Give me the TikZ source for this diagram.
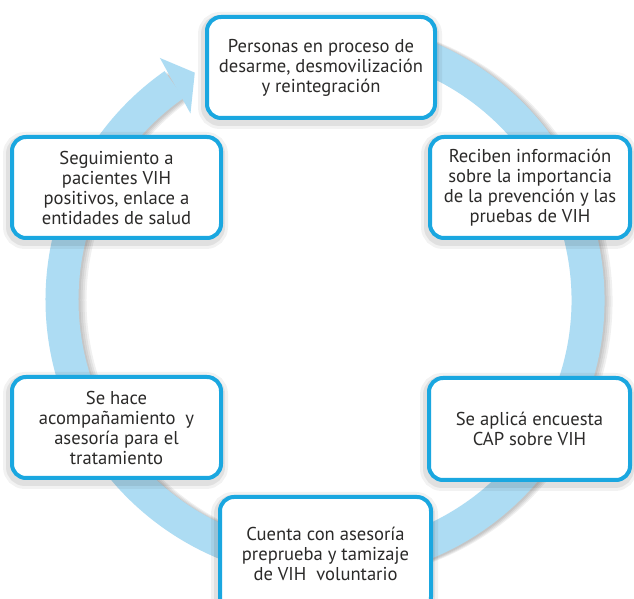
\documentclass[tikz,border=0pt]{standalone}
\usepackage{fontspec}
\setmainfont{PT Sans}
\usetikzlibrary{calc}

\definecolor{borde}{HTML}{1AA7E0}
\definecolor{anillo}{HTML}{ADDCF3}
\definecolor{letra}{HTML}{2B2A29}

\begin{document}
\begin{tikzpicture}[x=1pt,y=1pt,
  paso/.style={draw=borde, line width=4pt, rounded corners=14pt, fill=white,
    align=center, text=letra, inner sep=0pt,
    font=\fontsize{18.6}{20}\selectfont,
    preaction={draw=black, opacity=0.05, line width=16pt, transform canvas={xshift=-1pt,yshift=-3pt}},
    preaction={draw=black, opacity=0.07, line width=10pt, transform canvas={xshift=-1pt,yshift=-3pt}}}]
\clip (0,0) rectangle (634,599);
\fill[white] (0,0) rectangle (634,599);
\coordinate (c) at (325,299);
\def\r{263}

% ring, its shadow and the head
\foreach \s in {2,4,6,8}
  \draw[black, opacity=0.06, line width=33pt] ($(c)+(\s,-1)+(100:\r)$) arc[start angle=100, end angle=-235, radius=\r];
\draw[anillo, line width=33pt] ($(c)+(100:\r)$) arc[start angle=100, end angle=-235, radius=\r];
\fill[anillo] ($(c)+(125.8:230)$) -- ($(c)+(119.8:262)$) -- ($(c)+(124.3:293)$) -- cycle;

% steps
\node[paso, minimum width=228, minimum height=101] (p1) at (321,531.5)
  {Personas en proceso de\\desarme, desmovilización\\y reintegración};
\node[paso, minimum width=200, minimum height=101] (p2) at (530,411.5)
  {Reciben información\\sobre la importancia\\de la prevención y las\\pruebas de VIH};
\node[paso, minimum width=201, minimum height=102] (p3) at (529.5,170)
  {Se aplicá encuesta\\CAP sobre VIH};
\node[paso, minimum width=211, minimum height=114] (p4) at (325.5,45)
  {Cuenta con asesoría\\preprueba y tamizaje\\de VIH\ \ voluntario};
\node[paso, minimum width=209, minimum height=101] (p5) at (116.5,171.5)
  {Se hace\\acompañamiento\ \ y\\asesoría para el\\tratamiento};
\node[paso, minimum width=209, minimum height=101] (p6) at (116.5,411.5)
  {Seguimiento a\\pacientes VIH\\positivos, enlace a\\entidades de salud};
\end{tikzpicture}
\end{document}
